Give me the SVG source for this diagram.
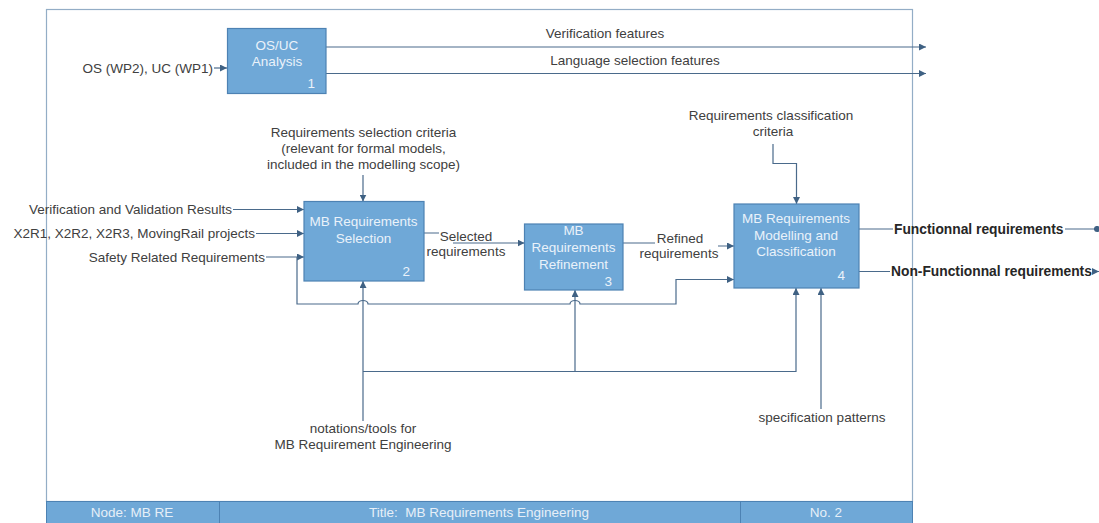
<svg xmlns="http://www.w3.org/2000/svg" width="1099" height="523" viewBox="0 0 1099 523">
<style>
.frame{fill:#ffffff;stroke:#93adc6;stroke-width:1.2}
.box{fill:#6fa8d7;stroke:#4d82b3;stroke-width:1.2}
.bt{font-family:"Liberation Sans",Arial,sans-serif;font-size:13.5px;fill:#eaf2fa;text-anchor:middle}
.num{font-family:"Liberation Sans",Arial,sans-serif;font-size:13.5px;fill:#eaf2fa;text-anchor:end}
.lbl{font-family:"Liberation Sans",Arial,sans-serif;font-size:13.5px;fill:#404040}
.c{text-anchor:middle}
.e{text-anchor:end}
.b{font-weight:bold;fill:#262626;font-size:13.8px}
.ln{fill:none;stroke:#4a6a8b;stroke-width:1.2}
.foot{fill:#6fa8d7;stroke:#4d82b3;stroke-width:1}
.ft{font-family:"Liberation Sans",Arial,sans-serif;font-size:13.5px;fill:#e6eff8;text-anchor:middle}
</style>
<defs>
<marker id="ar" viewBox="0 0 8 8" refX="8" refY="4" markerWidth="7" markerHeight="7" markerUnits="userSpaceOnUse" orient="auto">
<path d="M0,0 L8,4 L0,8 Z" fill="#3f6183"/>
</marker>
<marker id="dot" viewBox="0 0 8 8" refX="4" refY="4" markerWidth="7" markerHeight="7" markerUnits="userSpaceOnUse" orient="auto">
<circle cx="4" cy="4" r="3.5" fill="#3f6183"/>
</marker>
</defs>
<rect x="0" y="0" width="1099" height="523" fill="#ffffff"/>
<g id="frame">
<rect class="frame" x="46.5" y="9.5" width="866" height="492"/>
<rect class="foot" x="46.5" y="501.5" width="866" height="23"/>
<line x1="219.5" y1="501.5" x2="219.5" y2="523" stroke="#4d82b3" stroke-width="1"/>
<line x1="740.5" y1="501.5" x2="740.5" y2="523" stroke="#4d82b3" stroke-width="1"/>
<text class="ft" x="132" y="517">Node: MB RE</text>
<text class="ft" x="479" y="517">Title:&#160; MB Requirements Engineering</text>
<text class="ft" x="826" y="517">No. 2</text>
</g>
<g id="connectors">
<path class="ln" d="M214,68 H227" marker-end="url(#ar)"/>
<path class="ln" d="M326,47 H926" marker-end="url(#ar)"/>
<path class="ln" d="M326,73.5 H926" marker-end="url(#ar)"/>
<path class="ln" d="M233,209.5 H304" marker-end="url(#ar)"/>
<path class="ln" d="M256,233.5 H304" marker-end="url(#ar)"/>
<path class="ln" d="M266,257 H304" marker-end="url(#ar)"/>
<path class="ln" d="M363,175 V201.5" marker-end="url(#ar)"/>
<path class="ln" d="M424,233 H439 M453,243 H524.5" marker-end="url(#ar)"/>
<path class="ln" d="M623,243 H655 M718,246 H734" marker-end="url(#ar)"/>
<path class="ln" d="M297,257 V304 H358 A5,3.5 0 0 1 368,304 H570 A5,3.5 0 0 1 580,304 H676 V279.5 H734" marker-end="url(#ar)"/>
<path class="ln" d="M773,144 V163.5 H796.5 V204" marker-end="url(#ar)"/>
<path class="ln" d="M363,421 V281" marker-end="url(#ar)"/>
<path class="ln" d="M363,371.5 H796 V288" marker-end="url(#ar)"/>
<path class="ln" d="M575,371.5 V290" marker-end="url(#ar)"/>
<path class="ln" d="M821,409 V288" marker-end="url(#ar)"/>
<path class="ln" d="M859,229 H893 M1065,229 H1097" marker-end="url(#dot)"/>
<path class="ln" d="M859,271.5 H890 M1093,271.5 H1099" marker-end="url(#ar)"/>
</g>
<g id="node1">
<rect class="box" x="227.5" y="28.5" width="98.5" height="65"/>
<text class="bt" x="277" y="49.5">OS/UC</text>
<text class="bt" x="277" y="65.5">Analysis</text>
<text class="num" x="315" y="88">1</text>
</g>
<g id="node2">
<rect class="box" x="304" y="201.5" width="120" height="79.5"/>
<text class="bt" x="363.5" y="226">MB Requirements</text>
<text class="bt" x="363.5" y="243">Selection</text>
<text class="num" x="410" y="276">2</text>
</g>
<g id="node3">
<rect class="box" x="524.5" y="224" width="98.5" height="66"/>
<text class="bt" x="573.5" y="235">MB</text>
<text class="bt" x="573.5" y="252">Requirements</text>
<text class="bt" x="573.5" y="269">Refinement</text>
<text class="num" x="612" y="286">3</text>
</g>
<g id="node4">
<rect class="box" x="734" y="204" width="125" height="84"/>
<text class="bt" x="796" y="223">MB Requirements</text>
<text class="bt" x="796" y="240">Modelling and</text>
<text class="bt" x="796" y="256">Classification</text>
<text class="num" x="845" y="280">4</text>
</g>
<g id="labels">
<text class="lbl e" x="213" y="72.5">OS (WP2), UC (WP1)</text>
<text class="lbl c" x="605" y="38">Verification features</text>
<text class="lbl c" x="635" y="65">Language selection features</text>
<text class="lbl c" x="363.5" y="137">Requirements selection criteria</text>
<text class="lbl c" x="363.5" y="153">(relevant for formal models,</text>
<text class="lbl c" x="363.5" y="169">included in the modelling scope)</text>
<text class="lbl e" x="232" y="214">Verification and Validation Results</text>
<text class="lbl e" x="255" y="238">X2R1, X2R2, X2R3, MovingRail projects</text>
<text class="lbl e" x="265" y="261.5">Safety Related Requirements</text>
<text class="lbl c" x="466" y="241">Selected</text>
<text class="lbl c" x="466" y="256">requirements</text>
<text class="lbl c" x="680" y="243">Refined</text>
<text class="lbl c" x="679" y="258">requirements</text>
<text class="lbl c" x="771" y="120">Requirements classification</text>
<text class="lbl c" x="773" y="136">criteria</text>
<text class="lbl b" x="894" y="233.5">Functionnal requirements</text>
<text class="lbl b" x="891" y="276">Non-Functionnal requirements</text>
<text class="lbl c" x="363" y="433">notations/tools for</text>
<text class="lbl c" x="363" y="449">MB Requirement Engineering</text>
<text class="lbl c" x="822" y="422">specification patterns</text>
</g>
</svg>
